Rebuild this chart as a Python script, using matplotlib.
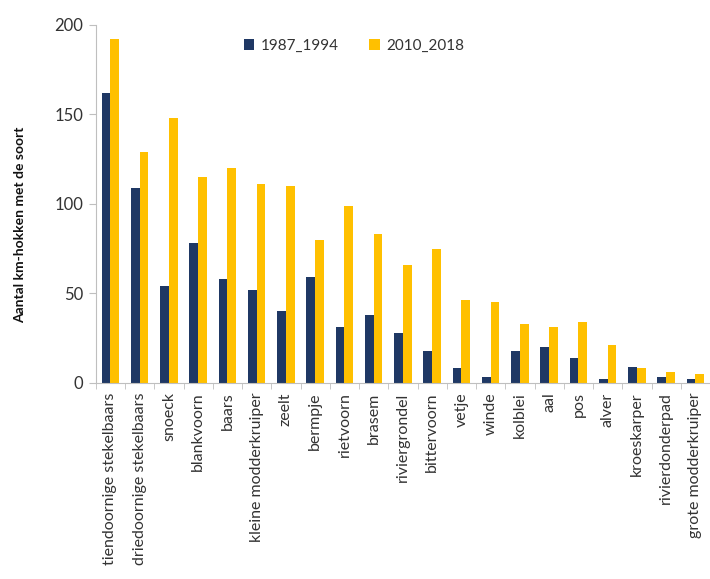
import numpy as np
import matplotlib
matplotlib.use("Agg")
import matplotlib.pyplot as plt

plt.rcParams['font.family'] = ['Lato', 'DejaVu Sans']

soorten = ['tiendoornige stekelbaars', 'driedoornige stekelbaars', 'snoeck', 'blankvoorn',
           'baars', 'kleine modderkruiper', 'zeelt', 'bermpje', 'rietvoorn', 'brasem',
           'riviergrondel', 'bittervoorn', 'vetje', 'winde', 'kolblei', 'aal', 'pos',
           'alver', 'kroeskarper', 'rivierdonderpad', 'grote modderkruiper']
p1987_1994 = [162, 109, 54, 78, 58, 52, 40, 59, 31, 38, 28, 18, 8, 3, 18, 20, 14, 2, 9, 3, 2]
p2010_2018 = [192, 129, 148, 115, 120, 111, 110, 80, 99, 83, 66, 75, 46, 45, 33, 31, 34, 21, 8, 6, 5]

navy = '#1F3864'
geel = '#FFC000'
tekst = '#333333'

fig = plt.figure(figsize=(7.10, 5.79), dpi=100)
ax = fig.add_axes([0.135, 0.339, 0.865, 0.618])

x = np.arange(len(soorten))
w = 0.3
ax.bar(x - w / 2, p1987_1994, width=w, color=navy, label='1987_1994')
ax.bar(x + w / 2, p2010_2018, width=w, color=geel, label='2010_2018')

ax.set_xlim(-0.5, len(soorten) - 0.5)
ax.set_ylim(0, 200)
ax.set_yticks([0, 50, 100, 150, 200])

# labels onder de as, tickstreepjes tussen de categorieen
ax.set_xticks(x)
ax.set_xticklabels(soorten, rotation=90, fontsize=11.5, color=tekst)
ax.tick_params(axis='x', length=0, pad=7)
ax.set_xticks(np.arange(-0.5, len(soorten), 1), minor=True)
ax.tick_params(axis='x', which='minor', length=4, color='#bfbfbf', direction='out')
ax.tick_params(axis='y', labelsize=12, colors='#bfbfbf', labelcolor=tekst, length=5, pad=4)

for s in ['top', 'right']:
    ax.spines[s].set_visible(False)
for s in ['left', 'bottom']:
    ax.spines[s].set_color('#bfbfbf')

ax.set_ylabel('Aantal km-hokken met de soort', fontsize=10, fontweight='bold', color='#111111')
ax.yaxis.set_label_coords(-0.113, 0.44)

ax.legend(loc='upper center', bbox_to_anchor=(0.42, 1.0), ncol=2, frameon=False,
          fontsize=11, handlelength=0.7, handleheight=0.7, columnspacing=2.0,
          handletextpad=0.4, labelcolor=tekst)

fig.savefig('out.png', dpi=100)
